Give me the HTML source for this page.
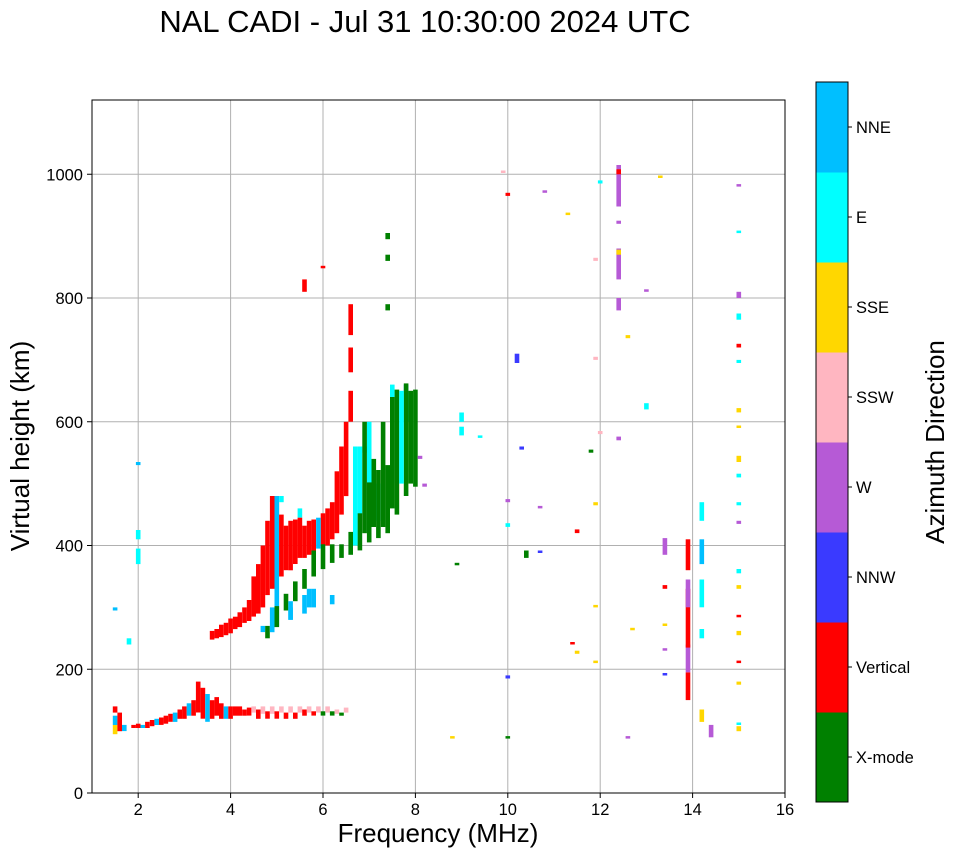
<!DOCTYPE html>
<html><head><meta charset="utf-8">
<style>
html,body{margin:0;padding:0;background:#fff;}
svg{display:block;font-family:"Liberation Sans",sans-serif;}
</style></head>
<body>
<svg id="chart" width="958" height="857" viewBox="0 0 958 857" xmlns="http://www.w3.org/2000/svg">
<text x="425" y="32" font-size="31" text-anchor="middle">NAL CADI - Jul 31 10:30:00 2024 UTC</text>
<g id="grid"></g>
<g id="marks"></g>
<rect x="92" y="100" width="693" height="693" fill="none" stroke="#000" stroke-width="1"/>
<g id="ticks"></g>
<text x="438" y="842" font-size="26" text-anchor="middle">Frequency (MHz)</text>
<text x="29" y="446" font-size="26" text-anchor="middle" transform="rotate(-90 29 446)">Virtual height (km)</text>
<g id="cbar"></g>
<text x="944" y="442" font-size="26" text-anchor="middle" transform="rotate(-90 944 442)">Azimuth Direction</text>
</svg>
<script>
const directions=["X-mode","Vertical","NNW","W","SSW","SSE","E","NNE"];
const colors=["#008000","#ff0000","#3a3aff","#b65ad6","#ffb6c1","#ffd700","#00ffff","#00bfff"];
const xTicks=[2,4,6,8,10,12,14,16];
const yTicks=[0,200,400,600,800,1000];
// runs: frequency (MHz), low height, high height (km), direction index
const freqs=[1.5,1.5,1.5,1.5,1.6,1.7,1.9,2.0,2.1,2.2,2.3,2.4,2.5,2.6,2.7,2.8,2.9,3.0,3.1,3.2,3.3,3.4,3.5,3.6,3.7,3.8,3.9,4.0,4.1,4.2,4.3,4.4,4.5,4.6,4.7,4.8,4.9,5.0,5.1,5.2,5.3,5.4,5.5,5.6,5.7,5.8,5.9,6.0,6.1,6.2,6.3,6.4,6.5,
2.0,2.0,2.0,1.8,
3.6,3.8,4.0,4.2,4.4,4.6,4.8,5.0,5.2,5.4,5.6,5.8,6.0,6.2,6.4,6.5,6.6,6.6,6.6,5.6,6.0,
4.7,5.0,5.3,5.6,5.8,6.2,6.8,7.0,7.5,7.8,7.2,6.9,5.1,5.5,
4.8,5.0,5.2,5.4,5.6,5.8,6.0,6.2,6.4,6.6,6.8,7.0,7.2,7.4,7.4,7.6,7.8,8.0,7.4,7.4,
8.2,8.1,9.0,9.0,8.9,8.8,9.4,
10.0,10.0,10.0,10.0,10.2,10.3,10.4,10.7,10.7,11.5,11.5,11.8,11.9,12.0,11.4,11.9,11.9,11.9,11.9,
12.4,12.4,12.4,12.4,12.4,12.4,12.4,12.6,13.0,13.4,13.4,13.4,13.4,13.4,13.0,12.6,12.7,
13.9,13.9,13.9,13.9,13.9,14.2,14.2,14.2,14.2,14.4,14.2,
15.0,15.0,15.0,15.0,15.0,15.0,15.0,15.0,15.0,15.0,15.0,15.0,15.0,15.0,15.0,15.0,15.0,15.0,15.0,15.0,
10.0,12.0,13.3,9.9,10.8,11.3,
3.7,3.9,4.1,4.3,4.5,4.7,4.9,5.1,5.3,5.5,5.7,5.9,6.1,6.3,6.7,6.9,7.1,7.3,7.5,7.7,7.9,4.9,5.3,5.7];
const hLow=[95,110,130,295,100,100,105,105,105,105,108,110,110,112,115,115,120,120,125,125,130,120,115,120,125,120,120,120,125,125,125,125,130,120,128,120,128,120,130,120,130,120,130,125,130,125,130,125,130,125,128,125,130,
530,410,370,240,
248,252,258,268,278,290,320,350,360,370,380,390,400,410,450,480,600,680,740,810,848,
260,270,280,290,300,305,450,420,500,600,440,550,470,445,
250,268,295,310,330,350,362,372,380,385,392,405,412,420,780,450,480,495,860,895,
495,540,600,578,368,90,575,
90,185,430,470,695,555,380,390,460,225,420,550,465,580,240,210,300,700,860,
948,830,780,870,920,1000,570,735,810,190,230,270,330,385,620,90,265,
150,195,235,300,360,250,300,370,440,90,115,
100,110,175,210,255,285,330,355,435,465,510,535,590,615,695,720,765,800,905,980,
965,985,995,1003,970,935,
250,255,265,275,285,300,330,350,360,380,385,395,400,420,400,420,430,430,460,500,500,260,280,300];
const hHigh=[110,125,140,300,130,110,110,112,110,115,118,120,122,125,128,130,135,140,145,150,180,170,160,150,155,145,140,140,140,140,135,138,140,135,140,132,140,132,140,130,140,130,140,135,140,132,140,132,140,132,135,130,138,
535,425,395,250,
262,272,282,292,312,370,440,470,432,442,432,442,452,470,560,600,650,720,790,830,852,
270,480,300,320,330,320,560,600,660,660,500,560,480,460,
270,302,322,342,362,392,402,402,402,422,452,502,522,530,790,652,662,652,870,905,
500,545,615,592,372,92,578,
92,190,436,475,710,560,392,392,464,230,426,555,470,585,244,214,304,705,865,
1015,880,800,878,925,1008,576,740,814,194,234,274,336,412,630,92,267,
195,240,330,345,410,265,345,410,470,110,135,
108,114,180,214,262,288,336,362,440,470,516,545,594,622,700,726,775,810,909,984,
970,990,998,1006,974,938,
265,275,285,300,350,400,480,450,440,445,440,445,460,520,560,600,540,600,640,650,650,300,310,330];
const modes=[5,7,1,7,1,7,1,1,7,1,1,7,1,1,1,7,1,1,7,1,1,1,7,1,1,1,7,1,1,1,1,1,4,1,4,1,4,1,4,1,4,1,4,1,4,1,4,0,4,0,4,0,4,
7,6,6,6,
1,1,1,1,1,1,1,1,1,1,1,1,1,1,1,1,1,1,1,1,1,
7,7,7,7,7,7,6,6,6,7,6,6,6,6,
0,0,0,0,0,0,0,0,0,0,0,0,0,0,0,0,0,0,0,0,
3,3,6,6,0,5,6,
0,2,6,3,2,2,0,2,3,5,1,0,5,4,1,5,5,4,4,
3,3,3,5,3,1,3,5,3,2,3,5,1,3,6,3,5,
1,3,1,3,1,6,6,7,6,3,5,
5,6,5,1,5,1,5,6,3,6,6,5,5,5,6,1,6,3,6,3,
1,6,5,4,3,5,
1,1,1,1,1,1,1,1,1,1,1,7,1,1,6,0,0,0,0,6,0,7,7,7];
const NS="http://www.w3.org/2000/svg";
const X0=92,X1=785,Y0=793,Y1=100;
function xs(f){return X0+(f-1)/(16-1)*(X1-X0);}
function ys(h){return Y0-h/1120*(Y0-Y1);}
function mk(tag,attrs,parent){const e=document.createElementNS(NS,tag);for(const k in attrs)e.setAttribute(k,attrs[k]);parent.appendChild(e);return e;}
const grid=document.getElementById('grid'),ticks=document.getElementById('ticks'),marks=document.getElementById('marks'),cbar=document.getElementById('cbar');
xTicks.forEach(t=>{const x=xs(t);
 const g=mk('line',{x1:x,x2:x,y1:Y1,y2:Y0,stroke:'#b0b0b0','stroke-width':1},grid);
 
 
 const tk=mk('line',{x1:x,x2:x,y1:Y0,y2:Y0+5,stroke:'#000'},ticks);
 
 
 const tx=mk('text',{x:x,y:Y0+22,'font-size':16.5,'text-anchor':'middle'},ticks);tx.textContent=t;
 
 
});
yTicks.forEach(t=>{const y=ys(t);
 const g=mk('line',{x1:X0,x2:X1,y1:y,y2:y,stroke:'#b0b0b0','stroke-width':1},grid);
 
 
 const tk=mk('line',{x1:X0-5,x2:X0,y1:y,y2:y,stroke:'#000'},ticks);
 
 
 const tx=mk('text',{x:X0-9,y:y+6,'font-size':16.5,'text-anchor':'end'},ticks);tx.textContent=t;
 
 
});
const w=(xs(1.1)-xs(1));
for(let i=0;i<freqs.length;i++){
 const x=xs(freqs[i])-w/2,yt=ys(hHigh[i]),yb=ys(hLow[i]);
 const r=mk('rect',{x:x.toFixed(1),y:yt.toFixed(1),width:w.toFixed(1),height:Math.max(2.5,yb-yt).toFixed(1),fill:colors[modes[i]]},marks);
 
 
}
const CX=816,CW=32,CT=82,CB=802,ch=(CB-CT)/directions.length;
directions.forEach((d,i)=>{const y=CB-(i+1)*ch;
 const r=mk('rect',{x:CX,y:y,width:CW,height:ch+0.5,fill:colors[i]},cbar);
 
 
 const tk=mk('line',{x1:CX+CW,x2:CX+CW+4,y1:y+ch/2,y2:y+ch/2,stroke:'#000'},cbar);
 
 
 const tx=mk('text',{x:CX+CW+8,y:y+ch/2+6,'font-size':16.5},cbar);tx.textContent=d;
 
 
});
const fr=mk('rect',{x:CX,y:CT,width:CW,height:CB-CT,fill:'none',stroke:'#000'},cbar);


</script>
</body></html>
